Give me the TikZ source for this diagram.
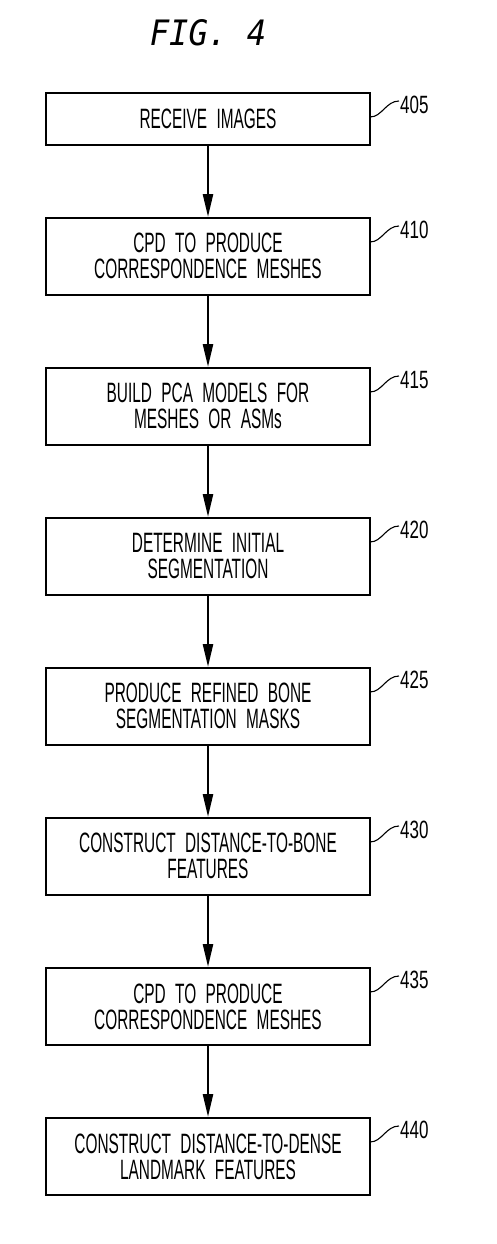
\documentclass[tikz,border=0pt]{standalone}
\usepackage{fontspec}
\usetikzlibrary{arrows.meta}
\newfontfamily\boxfont[FakeStretch=0.55,WordSpace=2.2]{Liberation Sans}
\newfontfamily\numfont[FakeStretch=0.68]{Liberation Sans}
\newfontfamily\titlefont[FakeStretch=0.92]{DejaVu Sans Mono}
\newcommand\boxtext{\boxfont\fontsize{28}{26}\selectfont}
\newcommand\numtext{\numfont\fontsize{25}{25}\selectfont}
\tikzset{
  stepbox/.style={draw, line width=1.7pt, anchor=north, minimum width=324pt,
    text width=320pt, align=center, inner sep=0pt, font=\boxtext},
  onebox/.style={stepbox, minimum height=52pt},
  twobox/.style={stepbox, minimum height=77pt},
  flow/.style={line width=2.4pt, -{Triangle[length=23pt,width=10pt]}},
  leader/.style={line width=1.1pt},
  reflabel/.style={anchor=west, inner sep=1pt, font=\numtext}
}
\begin{document}
\begin{tikzpicture}[x=1pt,y=-1pt]
\useasboundingbox (0,0) rectangle (496,1244);
\node[font={\titlefont\itshape\fontsize{35}{35}\selectfont}, anchor=base] (title) at (208,46) {FIG.~4};

\node[onebox] (b1) at (208,92) {RECEIVE IMAGES};
\node[twobox] (b2) at (208,217) {CPD TO PRODUCE\\CORRESPONDENCE MESHES};
\node[twobox] (b3) at (208,367) {BUILD PCA MODELS FOR\\MESHES OR ASMs};
\node[twobox] (b4) at (208,517) {DETERMINE INITIAL\\SEGMENTATION};
\node[twobox] (b5) at (208,667) {PRODUCE REFINED BONE\\SEGMENTATION MASKS};
\node[twobox] (b6) at (208,817) {CONSTRUCT DISTANCE-TO-BONE\\FEATURES};
\node[twobox] (b7) at (208,967) {CPD TO PRODUCE\\CORRESPONDENCE MESHES};
\node[twobox] (b8) at (208,1117) {CONSTRUCT DISTANCE-TO-DENSE\\LANDMARK FEATURES};

\foreach \a/\b in {b1/b2,b2/b3,b3/b4,b4/b5,b5/b6,b6/b7,b7/b8}
  \draw[flow] (\a.south) -- (\b.north);

\foreach \bx/\t/\n in {b1/92/405,b2/217/410,b3/367/415,b4/517/420,b5/667/425,b6/817/430,b7/967/435,b8/1117/440}{
  \node[reflabel] (l\n) at (399,\t+13) {\n};
  \coordinate (s\n) at (370,\t+25);
  \draw[leader] (s\n) .. controls +(12,0) and +(-13,0) .. ([yshift=4pt]l\n.west);
}
\end{tikzpicture}
\end{document}
